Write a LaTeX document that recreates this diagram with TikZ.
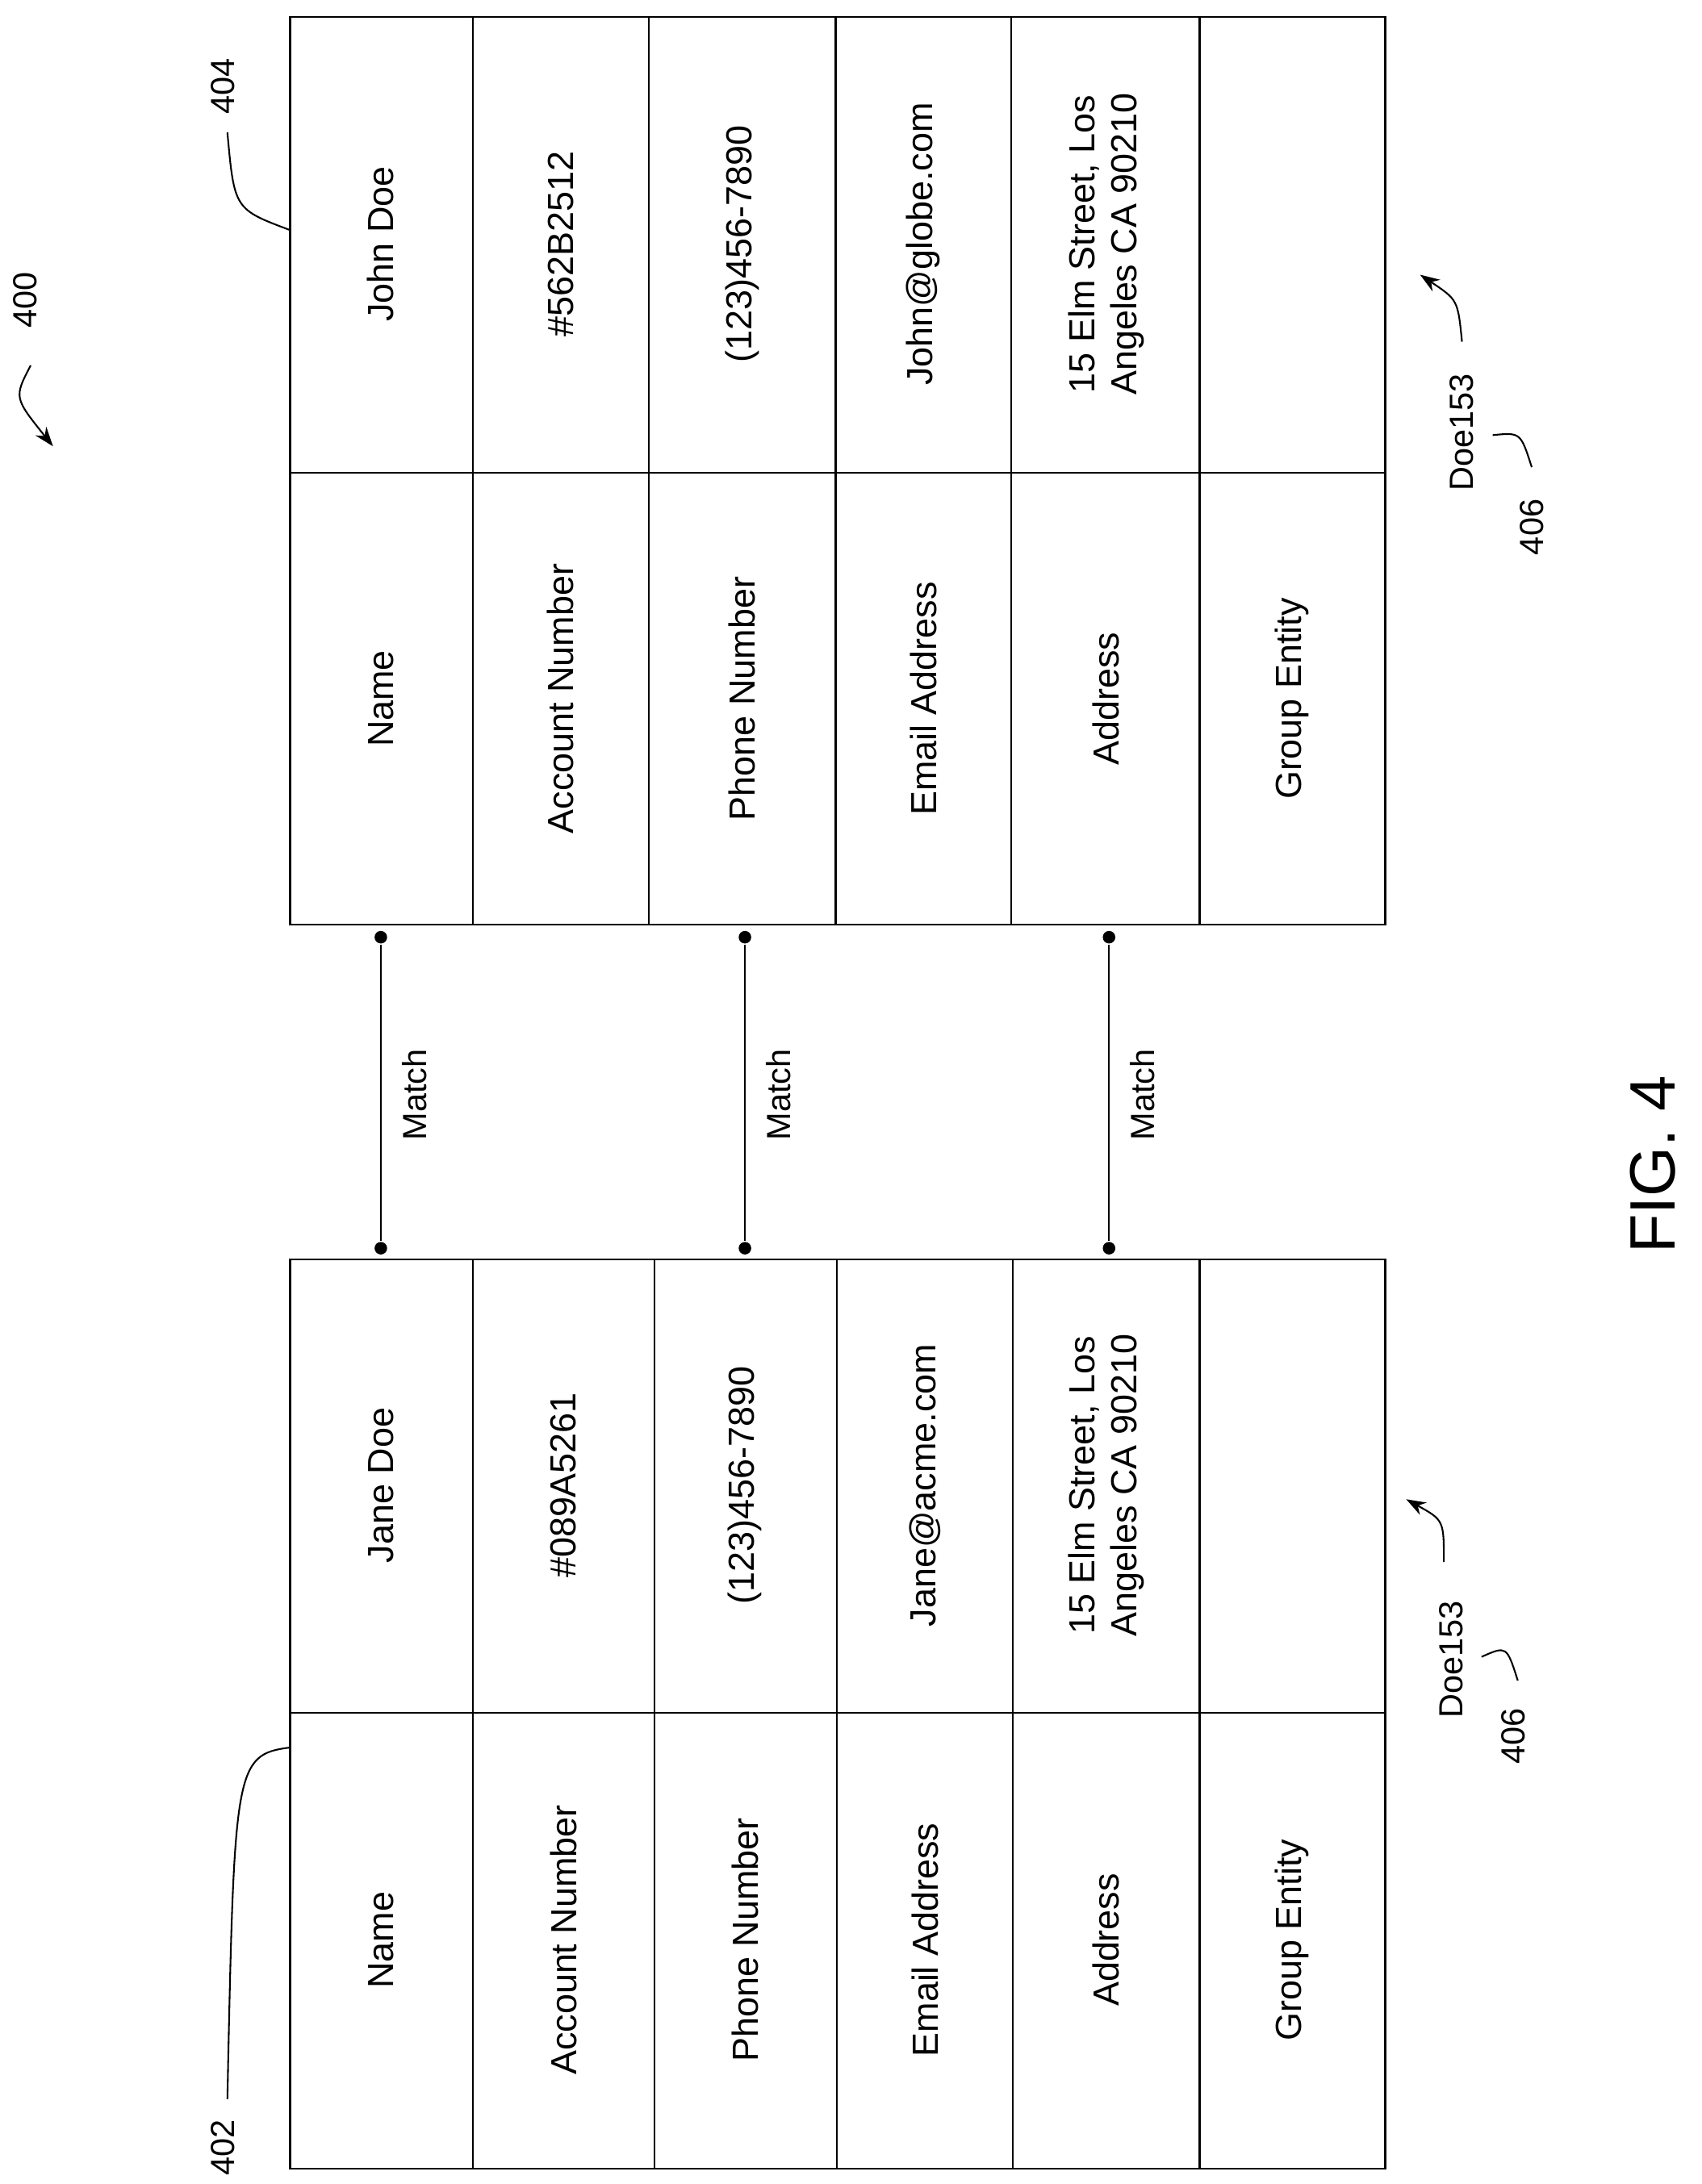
\documentclass[tikz,border=0pt]{standalone}
\usepackage{fontspec}
\setmainfont{Liberation Sans}
\usetikzlibrary{arrows.meta}
\begin{document}
\begin{tikzpicture}[x=1pt,y=-1pt,line width=1.3pt,
  cell/.style={rotate=90,font=\fontsize{26}{30}\selectfont,align=center},
  lbl/.style={rotate=90,font=\fontsize{24}{28}\selectfont},
  dotc/.style={circle,fill,inner sep=0pt,minimum size=9pt}]
\useasboundingbox (0,0) rectangle (1220,1566);
% upper table
\draw (208,12) rectangle (993,663);
\foreach \x in {339,465,599,725,860} \draw (\x,12) -- (\x,663);
\draw (208,339) -- (993,339);
% lower table
\draw (208,903) rectangle (993,1555);
\foreach \x in {339,469,600,726,860} \draw (\x,903) -- (\x,1555);
\draw (208,1228) -- (993,1228);
% upper texts
\node[cell] (u1) at (273,175) {John Doe};
\node[cell] (u2) at (402,175) {\#562B2512};
\node[cell] (u3) at (532,175) {(123)456-7890};
\node[cell] (u4) at (662,175) {John@globe.com};
\node[cell] (u5) at (793,175) {15 Elm Street, Los\\Angeles CA 90210};
\node[cell] (l1) at (273,501) {Name};
\node[cell] (l2) at (402,501) {Account Number};
\node[cell] (l3) at (532,501) {Phone Number};
\node[cell] (l4) at (662,501) {Email Address};
\node[cell] (l5) at (793,501) {Address};
\node[cell] (l6) at (926,501) {Group Entity};
% lower texts
\node[cell] (v1) at (273,1065) {Jane Doe};
\node[cell] (v2) at (404,1065) {\#089A5261};
\node[cell] (v3) at (534,1065) {(123)456-7890};
\node[cell] (v4) at (663,1065) {Jane@acme.com};
\node[cell] (v5) at (793,1065) {15 Elm Street, Los\\Angeles CA 90210};
\node[cell] (m1) at (273,1391) {Name};
\node[cell] (m2) at (404,1391) {Account Number};
\node[cell] (m3) at (534,1391) {Phone Number};
\node[cell] (m4) at (663,1391) {Email Address};
\node[cell] (m5) at (793,1391) {Address};
\node[cell] (m6) at (926,1391) {Group Entity};
% match connectors
\foreach \x/\n in {273/a,534/b,795/c}{
  \node[dotc] (t\n) at (\x,672) {};
  \node[dotc] (b\n) at (\x,895) {};
  \draw (t\n) -- (b\n);
  \node[lbl] at (\x+24,785) {Match};
}
% reference labels
\node[lbl] (n400) at (18,215) {400};
\draw[-{Stealth[length=14pt,width=10pt]},line width=1.2pt] (22,262) .. controls (10,285) .. (38,320);
\node[lbl] (n404) at (160,62) {404};
\draw[line width=1.2pt] (163,95) .. controls (168,150) .. (208,165);
\node[lbl] (n402) at (160,1540) {402};
\draw[line width=1.2pt] (163,1505) .. controls (168,1268) and (168,1258) .. (208,1253);
\node[lbl] (d1) at (1048,310) {Doe153};
\node[lbl] (r1) at (1098,378) {406};
\draw[line width=1.2pt] (1098,335) .. controls (1090,310) .. (1070,312);
\draw[-{Stealth[length=14pt,width=10pt]},line width=1.2pt] (1048,245) .. controls (1045,215) .. (1018,197);
\node[lbl] (d2) at (1040,1190) {Doe153};
\node[lbl] (r2) at (1085,1245) {406};
\draw[line width=1.2pt] (1088,1205) .. controls (1080,1180) .. (1062,1188);
\draw[-{Stealth[length=14pt,width=10pt]},line width=1.2pt] (1035,1120) .. controls (1035,1090) .. (1008,1075);
\node[rotate=90,font=\fontsize{46}{50}\selectfont] (fig) at (1185,835) {FIG. 4};
\end{tikzpicture}
\end{document}
